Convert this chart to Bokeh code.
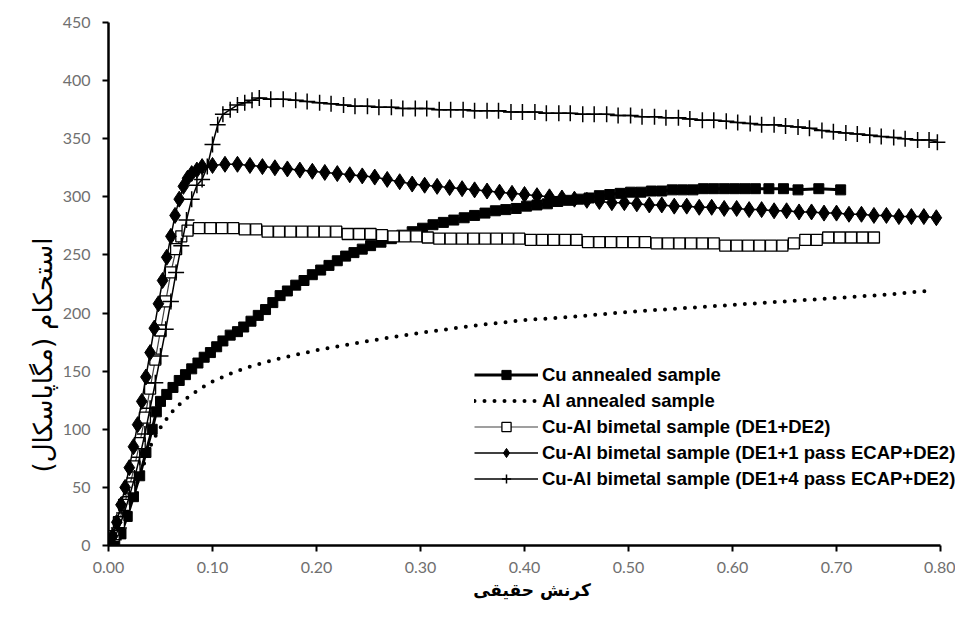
from bokeh.plotting import figure
from bokeh.models import Range1d, FixedTicker, NumeralTickFormatter, Legend, LegendItem, Title
from bokeh.embed import file_html
from bokeh.resources import INLINE

x_ticks = [0.0, 0.1, 0.2, 0.3, 0.4, 0.5, 0.6, 0.7, 0.8]
y_ticks = [0, 50, 100, 150, 200, 250, 300, 350, 400, 450]

labels = [
    "Cu annealed sample",
    "Al annealed sample",
    "Cu-Al bimetal sample (DE1+DE2)",
    "Cu-Al bimetal sample (DE1+1 pass ECAP+DE2)",
    "Cu-Al bimetal sample (DE1+4 pass ECAP+DE2)",
]

cu_strain = [0, 0.006, 0.012, 0.018, 0.024, 0.03, 0.036, 0.042, 0.046, 0.05,
             0.056, 0.062, 0.068, 0.074, 0.08, 0.086, 0.092, 0.098, 0.104, 0.11,
             0.117, 0.124, 0.13, 0.137, 0.144, 0.151, 0.158, 0.165, 0.172,
             0.18, 0.188, 0.196, 0.204, 0.212, 0.22, 0.228, 0.236, 0.244, 0.252,
             0.262, 0.272, 0.282, 0.292, 0.302, 0.312, 0.322, 0.332, 0.342, 0.352,
             0.362, 0.372, 0.382, 0.392, 0.402, 0.412, 0.422, 0.432, 0.442, 0.452,
             0.462, 0.472, 0.482, 0.492, 0.502, 0.512, 0.522, 0.532, 0.542, 0.552,
             0.562, 0.572, 0.582, 0.592, 0.602, 0.612, 0.622,
             0.635, 0.649, 0.663, 0.683, 0.704]
cu_stress = [0, 3, 10, 25, 42, 60, 80, 100, 115, 124,
             130, 136, 142, 147, 152, 157, 162, 166, 171, 176,
             181, 184, 188, 193, 198, 203, 209, 215, 219,
             224, 228, 233, 237, 241, 245, 249, 252, 255, 258,
             261, 264, 267, 270, 273, 276, 278, 280, 282, 284,
             286, 288, 289, 290, 292, 293, 294, 296, 297, 298,
             299, 301, 302, 303, 304, 304, 305, 305, 306, 306,
             306, 307, 307, 307, 307, 307, 307,
             307, 307, 306, 307, 306]

al_strain = [0, 0.01, 0.02, 0.03, 0.04, 0.048, 0.06, 0.07, 0.08, 0.09, 0.10, 0.12,
             0.14, 0.165, 0.2, 0.25, 0.3, 0.35, 0.4, 0.45, 0.5, 0.55, 0.6, 0.65,
             0.7, 0.75, 0.787]
al_stress = [0, 12, 35, 60, 85, 99, 114, 123, 130, 136, 141, 149,
             155, 161, 168, 176, 183, 189, 194, 197, 201, 204, 207, 210,
             213, 216, 219]

de_strain = [0, 0.005, 0.01, 0.015, 0.02, 0.025, 0.03, 0.035, 0.04, 0.045, 0.05,
             0.055, 0.06, 0.065, 0.07, 0.076,
             0.087, 0.098, 0.109, 0.12, 0.131, 0.142, 0.153, 0.164, 0.175, 0.186,
             0.197, 0.208, 0.219, 0.23, 0.241, 0.252, 0.263, 0.274, 0.285, 0.296,
             0.307, 0.318, 0.329, 0.34, 0.351, 0.362, 0.373, 0.384, 0.395, 0.406,
             0.417, 0.428, 0.439, 0.45, 0.461, 0.472, 0.483, 0.494, 0.505, 0.516,
             0.527, 0.538, 0.549, 0.56, 0.571, 0.582, 0.593, 0.604, 0.615, 0.626,
             0.637, 0.648, 0.659, 0.67, 0.681, 0.692, 0.703, 0.714, 0.725, 0.736]
de_stress = [0, 8, 20, 35, 50, 68, 88, 110, 135, 160, 185,
             210, 235, 255, 266, 271,
             273, 273, 273, 273, 272, 272, 270, 270, 270, 270,
             270, 270, 270, 268, 268, 268, 267, 266, 266, 266,
             265, 264, 264, 264, 264, 264, 264, 264, 264, 263,
             263, 263, 263, 263, 261, 261, 261, 261, 261, 261,
             260, 260, 260, 260, 260, 260, 258, 258, 258, 258,
             258, 258, 260, 263, 263, 265, 265, 265, 265, 265]

p1_strain = [0, 0.004, 0.008, 0.012, 0.016, 0.02, 0.024, 0.028, 0.032, 0.036, 0.04,
             0.044, 0.048, 0.052, 0.056, 0.06, 0.064, 0.068, 0.072, 0.076, 0.08,
             0.085, 0.09,
             0.1, 0.112, 0.124, 0.136, 0.148, 0.16, 0.172, 0.184, 0.196, 0.208,
             0.22, 0.232, 0.244, 0.256, 0.268, 0.28, 0.292, 0.304, 0.316, 0.328,
             0.34, 0.352, 0.364, 0.376, 0.388, 0.4, 0.412, 0.424, 0.436, 0.448,
             0.46, 0.472, 0.484, 0.496, 0.508, 0.52, 0.532, 0.544, 0.556, 0.568,
             0.58, 0.592, 0.604, 0.616, 0.628, 0.64, 0.652, 0.664, 0.676, 0.688,
             0.7, 0.712, 0.724, 0.736, 0.748, 0.76, 0.772, 0.784, 0.796]
p1_stress = [0, 8, 20, 35, 50, 67, 85, 104, 124, 145, 166,
             187, 208, 228, 248, 266, 284, 298, 309, 316, 320,
             323, 326,
             327, 328, 328, 327, 326, 325, 324, 323, 322, 321,
             320, 319, 318, 317, 315, 313, 311, 310, 309, 308,
             307, 306, 305, 304, 303, 302, 301, 300, 299, 298,
             297, 296, 295, 295, 294, 293, 293, 292, 292, 291,
             291, 290, 290, 289, 289, 288, 288, 287, 287, 286,
             286, 285, 285, 284, 284, 283, 283, 283, 282]

p4_strain = [0, 0.005, 0.01, 0.015, 0.02, 0.025, 0.03, 0.035, 0.04, 0.045, 0.05,
             0.055, 0.06, 0.065, 0.07, 0.075, 0.08, 0.085, 0.09, 0.095, 0.1,
             0.105, 0.11, 0.117, 0.124, 0.131, 0.138, 0.145,
             0.156, 0.168, 0.18, 0.191, 0.203, 0.214, 0.226, 0.237, 0.249, 0.26,
             0.272, 0.283, 0.295, 0.306, 0.318, 0.329, 0.341, 0.352, 0.364, 0.375,
             0.387, 0.398, 0.41, 0.421, 0.433, 0.444, 0.456, 0.467, 0.479, 0.49,
             0.502, 0.513, 0.525, 0.536, 0.548, 0.559, 0.571, 0.582, 0.594, 0.605,
             0.617, 0.628, 0.64, 0.651, 0.663, 0.674, 0.686, 0.697, 0.709, 0.72,
             0.732, 0.743, 0.755, 0.766, 0.778, 0.789, 0.797]
p4_stress = [0, 5, 15, 28, 42, 58, 76, 96, 118, 140, 163,
             186, 210, 235, 258, 280, 298, 310, 315, 326, 345,
             362, 371, 375, 379, 381, 383, 385,
             384, 384, 383, 382, 381, 380, 379, 378, 378, 377,
             377, 376, 376, 376, 375, 375, 375, 374, 374, 374,
             373, 373, 373, 372, 372, 372, 371, 371, 371, 370,
             370, 369, 369, 368, 368, 367, 366, 366, 365, 364,
             363, 362, 362, 361, 360, 359, 357, 356, 355, 354,
             353, 352, 351, 350, 349, 349, 347]

# frame: 0..0.80 spans 832 px; the frame continues to the canvas edge so the
# legend text (which overhangs the last tick in the original) is not clipped
FIG_W, FIG_H = 955, 603
LEFT, TOP, BOTTOM = 108, 22, 58
x_end = 0.8 * (FIG_W - LEFT) / 832.0

p = figure(width=FIG_W, height=FIG_H, output_backend="svg", toolbar_location=None,
           x_range=Range1d(0, x_end), y_range=Range1d(0, 450),
           min_border_left=LEFT, min_border_right=0, min_border_top=TOP,
           min_border_bottom=BOTTOM)
p.title.visible = False
p.outline_line_color = None
p.xgrid.visible = False
p.ygrid.visible = False
p.background_fill_color = "white"
p.border_fill_color = "white"

for ax in (p.xaxis[0], p.yaxis[0]):
    ax.axis_line_color = "black"
    ax.axis_line_width = 2.5
    ax.major_tick_line_color = "black"
    ax.major_tick_line_width = 2
    ax.major_tick_out = 6
    ax.major_tick_in = 0
    ax.minor_tick_line_color = None
    ax.major_label_text_font = "Lato"
    ax.major_label_text_font_size = "16px"
    ax.major_label_text_color = "#707070"
p.xaxis.ticker = FixedTicker(ticks=x_ticks)
p.yaxis.ticker = FixedTicker(ticks=y_ticks)
p.xaxis.bounds = (0, 0.8)
p.xaxis.formatter = NumeralTickFormatter(format="0.00")
p.xaxis.major_label_standoff = 10
p.yaxis.major_label_standoff = 12

ty = Title(text="استحکام (مگاپاسکال)", align="left", text_font="DejaVu Sans",
           text_font_size="26px", text_font_style="normal", text_color="black",
           offset=73, standoff=4)
p.add_layout(ty, "left")
tx = Title(text="کرنش حقیقی", align="center", text_font="DejaVu Sans",
           text_font_size="17px", text_font_style="bold", text_color="black",
           standoff=4)
p.add_layout(tx, "below")

l_cu = p.line(cu_strain, cu_stress, line_color="black", line_width=3)
s_cu = p.scatter(cu_strain, cu_stress, marker="square", size=10,
                 fill_color="black", line_color="black")
l_al = p.line(al_strain, al_stress, line_color="black", line_width=4,
              line_dash="0 10", line_cap="round")
l_de = p.line(de_strain, de_stress, line_color="#404040", line_width=1.2)
s_de = p.scatter(de_strain, de_stress, marker="square", size=11,
                 fill_color="white", line_color="black", line_width=1.3)
l_p1 = p.line(p1_strain, p1_stress, line_color="black", line_width=1.5)
s_p1 = p.scatter(p1_strain, p1_stress, marker="diamond", size=16,
                 fill_color="black", line_color="black")
l_p4 = p.line(p4_strain, p4_stress, line_color="black", line_width=1.5)
s_p4 = p.scatter(p4_strain, p4_stress, marker="cross", size=16,
                 line_color="black", line_width=1.5)

legend = Legend(items=[
    LegendItem(label=labels[0], renderers=[l_cu, s_cu]),
    LegendItem(label=labels[1], renderers=[l_al]),
    LegendItem(label=labels[2], renderers=[l_de, s_de]),
    LegendItem(label=labels[3], renderers=[l_p1, s_p1]),
    LegendItem(label=labels[4], renderers=[l_p4, s_p4]),
], location=(366, 55))
legend.border_line_color = None
legend.background_fill_alpha = 0
legend.padding = 0
legend.margin = 0
legend.spacing = 3
legend.glyph_width = 64
legend.glyph_height = 23
legend.label_height = 23
legend.label_standoff = 4
legend.label_text_font = "Liberation Sans"
legend.label_text_font_style = "bold"
legend.label_text_font_size = "18.5px"
legend.label_text_color = "black"
p.add_layout(legend)

open("out.html", "w").write(file_html(p, INLINE))
